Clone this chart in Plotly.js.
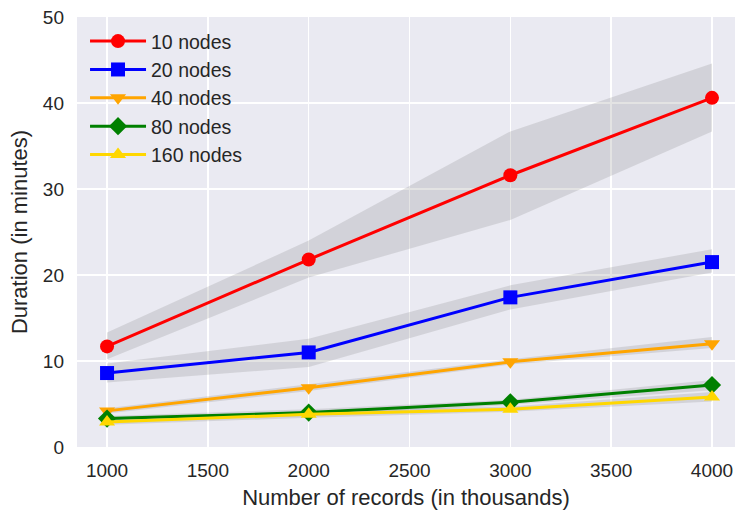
<!DOCTYPE html>
<html>
<head>
<meta charset="utf-8">
<script src="https://cdn.plot.ly/plotly-3.0.1.min.js"></script>
<style>html,body{margin:0;padding:0;background:#fff;overflow:hidden}</style>
</head>
<body>
<div id="chart" style="width:736px;height:511px"></div>
<script>
const records = [1000, 2000, 3000, 4000];
const seriesNames = ["10 nodes", "20 nodes", "40 nodes", "80 nodes", "160 nodes"];

const mean10 = [11.7, 21.8, 31.6, 40.6];
const upper10 = [13.3, 24.0, 36.7, 44.6];
const lower10 = [10.2, 19.7, 26.4, 36.7];

const mean20 = [8.6, 11.0, 17.4, 21.5];
const upper20 = [9.7, 12.6, 18.8, 23.0];
const lower20 = [7.5, 9.3, 16.0, 20.3];

const mean40 = [4.2, 6.9, 9.9, 12.0];
const upper40 = [4.5, 7.3, 10.2, 12.8];
const lower40 = [3.9, 6.5, 9.6, 11.5];

const mean80 = [3.3, 4.0, 5.2, 7.2];
const upper80 = [3.6, 4.4, 5.5, 7.8];
const lower80 = [3.0, 3.6, 4.9, 6.6];

const mean160 = [2.9, 3.8, 4.4, 5.8];
const upper160 = [3.2, 4.2, 4.7, 6.4];
const lower160 = [2.6, 3.4, 4.1, 5.3];

const means = [mean10, mean20, mean40, mean80, mean160];
const uppers = [upper10, upper20, upper40, upper80, upper160];
const lowers = [lower10, lower20, lower40, lower80, lower160];
const colors = ["#FF0000", "#0000FF", "#FFA500", "#008000", "#FFD700"];
const symbols = ["circle", "square", "triangle-down", "diamond", "triangle-up"];
const sizes = [14, 14, 14, 14, 14];

const traces = [];
for (let i = 0; i < means.length; i++) {
  traces.push({
    x: records.concat(records.slice().reverse()),
    y: uppers[i].concat(lowers[i].slice().reverse()),
    type: "scatter",
    mode: "lines",
    fill: "toself",
    fillcolor: "rgba(128,128,128,0.22)",
    line: {width: 0, color: "rgba(0,0,0,0)"},
    hoverinfo: "skip",
    showlegend: false
  });
}
for (let i = 0; i < means.length; i++) {
  traces.push({
    x: records,
    y: means[i],
    name: seriesNames[i],
    type: "scatter",
    mode: "lines+markers",
    line: {color: colors[i], width: 3},
    marker: {color: colors[i], symbol: symbols[i], size: sizes[i]}
  });
}

const font = "'Liberation Sans', Arial, sans-serif";
const layout = {
  width: 736,
  height: 511,
  margin: {l: 77, r: 1, t: 17, b: 64},
  paper_bgcolor: "#FFFFFF",
  plot_bgcolor: "#EAEAF2",
  font: {family: font, color: "#262626", size: 19},
  showlegend: true,
  legend: {
    x: 0.0122, y: 0.9885, xanchor: "left", yanchor: "top",
    bgcolor: "rgba(0,0,0,0)",
    font: {family: font, size: 19.5, color: "#262626"},
    itemwidth: 56
  },
  xaxis: {
    range: [851, 4114],
    tickvals: [1000, 1500, 2000, 2500, 3000, 3500, 4000],
    ticktext: ["1000", "1500", "2000", "2500", "3000", "3500", "4000"],
    showgrid: true, gridcolor: "#FFFFFF", gridwidth: 1.5,
    zeroline: false, showline: false, ticks: "",
    ticklabelstandoff: 10,
    tickfont: {family: font, size: 19, color: "#262626"},
    title: {text: "Number of records (in thousands)", font: {family: font, size: 22, color: "#262626"}, standoff: 9.5}
  },
  yaxis: {
    range: [0, 50],
    tickvals: [0, 10, 20, 30, 40, 50],
    showgrid: true, gridcolor: "#FFFFFF", gridwidth: 1.5,
    zeroline: false, showline: false, ticks: "",
    ticklabelstandoff: 12,
    tickfont: {family: font, size: 19, color: "#262626"},
    title: {text: "Duration (in minutes)", font: {family: font, size: 22, color: "#262626"}, standoff: 9}
  }
};

Plotly.newPlot("chart", traces, layout, {displayModeBar: false, staticPlot: true});
</script>
</body>
</html>
